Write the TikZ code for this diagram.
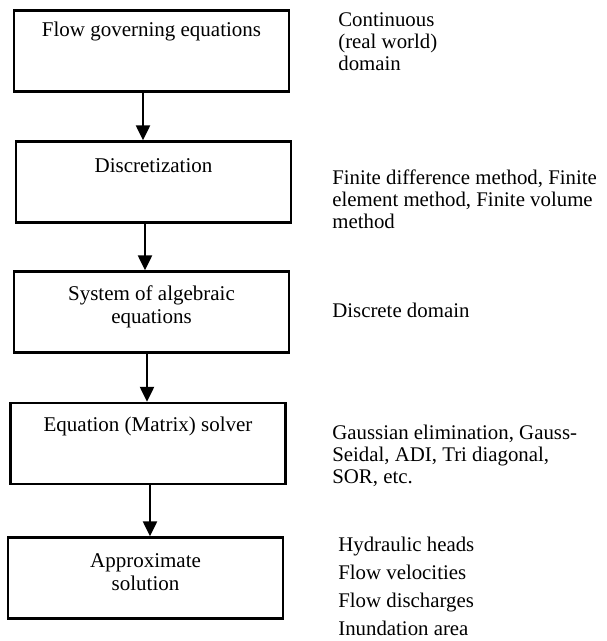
\documentclass[tikz,border=0pt]{standalone}
\usepackage{fontspec}
\setmainfont{Liberation Serif}
\usepackage{tikz}
\usetikzlibrary{arrows.meta,positioning}

\begin{document}
\begin{tikzpicture}[x=0.6pt,y=-0.6pt,
	blk/.style={draw,line width=1.5pt,minimum width=165pt,minimum height=48.6pt,inner sep=0pt},
	boxtxt/.style={inner sep=0pt,align=center,font=\fontsize{12.6}{13.8}\selectfont},
	side/.style={inner sep=0pt,anchor=west,align=left,font=\fontsize{12.5}{13.2}\selectfont},
	flow/.style={line width=1.2pt,-{Triangle[length=9pt,width=8.5pt]}}]
	\useasboundingbox (0,0) rectangle (606,641);

	%boxes
	\node[blk] (gov)  at (151.5,51)  {};
	\node[blk] (disc) at (153.5,182) {};
	\node[blk] (sys)  at (151.5,312) {};
	\node[blk] (solv) at (148,443.5) {};
	\node[blk] (appr) at (145.5,578) {};

	%box texts
	\node[boxtxt] (govtxt)  at ([yshift=-13.2pt]gov.north) {Flow governing equations};
	\node[boxtxt] (disctxt) at ([yshift=-15pt]disc.north)  {Discretization};
	\node[boxtxt] (systxt)  at ([yshift=3pt]sys.center)    {System of algebraic\\equations};
	\node[boxtxt] (solvtxt) at ([yshift=-15pt]solv.north)  {Equation (Matrix) solver};
	\node[boxtxt] (apprtxt) at ([yshift=3.6pt]appr.center) {Approximate\\solution};

	%arrows
	\draw[flow] ([xshift=-5.1pt]gov.south)  -- ([xshift=-5.1pt]gov.south |- disc.north);
	\draw[flow] ([xshift=-5.1pt]disc.south) -- ([xshift=-5.1pt]disc.south |- sys.north);
	\draw[flow] ([xshift=-2.7pt]sys.south)  -- ([xshift=-2.7pt]sys.south |- solv.north);
	\draw[flow] ([xshift=1.2pt]solv.south)  -- ([xshift=1.2pt]solv.south |- appr.north);

	%right side notes
	\node[side] (cont)  at (338,42)  {Continuous\\(real world)\\domain};
	\node[side] (meth)  at (332,199) {Finite difference method, Finite\\element method, Finite volume\\method};
	\node[side] (discr) at (332,310) {Discrete domain};
	\node[side] (gauss) at (332,456) {Gaussian elimination, Gauss-\\Seidal, ADI, Tri diagonal,\\SOR, etc.};
	\node[side,font=\fontsize{12.5}{16.8}\selectfont] (outp) at (338,586) {Hydraulic heads\\Flow velocities\\Flow discharges\\Inundation area};
\end{tikzpicture}
\end{document}
